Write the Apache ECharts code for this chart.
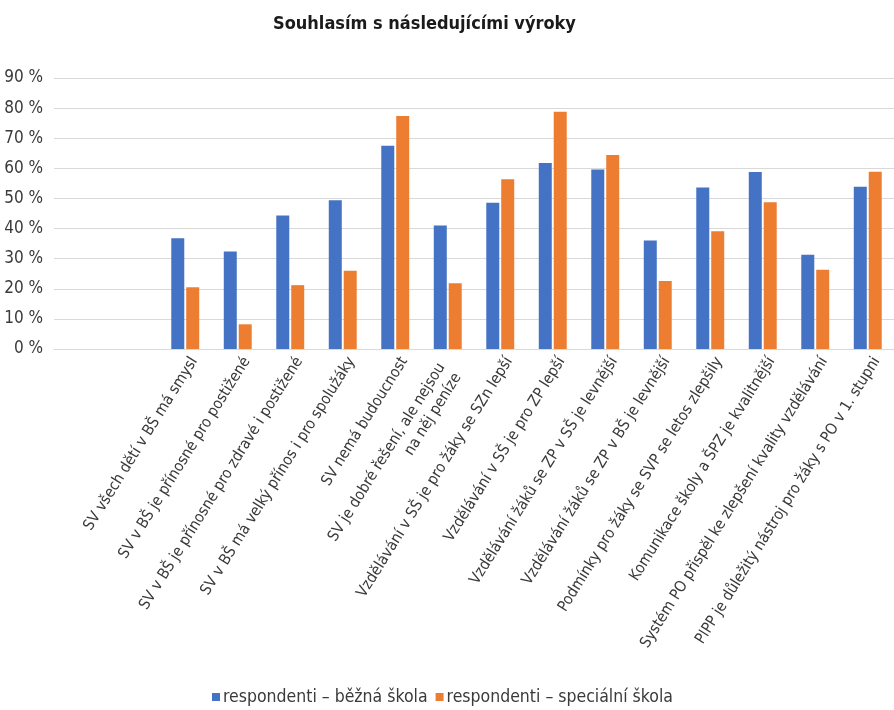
<!DOCTYPE html>
<html>
<head>
<meta charset="utf-8">
<script src="https://cdn.jsdelivr.net/npm/echarts@6/dist/echarts.min.js"></script>
<style>
  html, body { margin: 0; padding: 0; background: #fff; }
  #chart { width: 894px; height: 710px; }
</style>
</head>
<body>
<div id="chart"></div>
<script>
// Statements shown on the category axis
const statements = [
  'SV všech dětí v BŠ má smysl',
  'SV v BŠ je přínosné pro postižené',
  'SV v BŠ je přínosné pro zdravé i postižené',
  'SV v BŠ má velký přínos i pro spolužáky',
  'SV nemá budoucnost',
  'SV je dobré řešení, ale nejsou\nna něj peníze',
  'Vzdělávání v SŠ je pro žáky se SZn lepší',
  'Vzdělávání v SŠ je pro ZP lepší',
  'Vzdělávání žáků se ZP v SŠ je levnější',
  'Vzdělávání žáků se ZP v BŠ je levnější',
  'Podmínky pro žáky se SVP se letos zlepšily',
  'Komunikace školy a ŠPZ je kvalitnější',
  'Systém PO přispěl ke zlepšení kvality vzdělávání',
  'PIPP je důležitý nástroj pro žáky s PO v 1. stupni'
];

// Share of agreeing respondents, in percent
const mainstreamSchool = [36.8, 32.4, 44.3, 49.4, 67.5, 41.0, 48.6, 61.8, 59.6, 36.0, 53.6, 58.8, 31.3, 53.9];
const specialSchool    = [20.5,  8.2, 21.2, 26.0, 77.4, 21.8, 56.4, 78.8, 64.4, 22.6, 39.1, 48.7, 26.3, 58.9];

const seriesNames = ['respondenti – běžná škola', 'respondenti – speciální škola'];
const yTicks = { min: 0, max: 90, interval: 10 };

// Two unused slots precede the statements on the axis
const leadingSlots = 2;
const pad = (arr, v) => Array(leadingSlots).fill(v).concat(arr);

const FONT = "'Liberation Sans Narrow', 'DejaVu Sans Condensed', 'Open Sans', sans-serif";
const TEXT = '#3a3a3a';

// Two-line labels sit centred on their tick
const axisItems = pad(statements, '').map(s =>
  s.indexOf('\n') >= 0 ? { value: s, textStyle: { padding: [0, -4, 35, 0] } } : s
);

const chart = echarts.init(document.getElementById('chart'), null, { renderer: 'canvas' });

chart.setOption({
  animation: false,
  backgroundColor: '#fff',
  textStyle: { fontFamily: FONT },
  title: {
    text: 'Souhlasím s následujícími výroky',
    left: 268,
    top: 10,
    textStyle: { fontFamily: FONT, fontSize: 18, fontWeight: 'bold', color: '#1a1a1a' }
  },
  legend: {
    bottom: -1,
    left: 207,
    itemWidth: 8,
    itemHeight: 8,
    itemGap: 8,
    icon: 'rect',
    textStyle: { fontFamily: FONT, fontSize: 17.5, color: TEXT, padding: [0, 0, 0, -2] },
    data: seriesNames
  },
  grid: { left: 54, top: 78, width: 849, bottom: 361, containLabel: false },
  xAxis: {
    type: 'category',
    data: axisItems,
    axisLine: { lineStyle: { color: '#d9d9d9', width: 1 } },
    axisTick: { show: false },
    axisLabel: {
      interval: 0,
      rotate: 58,
      margin: 24,
      padding: [0, -17, 0, 0],
      fontFamily: FONT,
      fontSize: 15.5,
      color: TEXT,
      lineHeight: 19
    }
  },
  yAxis: {
    type: 'value',
    min: yTicks.min,
    max: yTicks.max,
    interval: yTicks.interval,
    axisLine: { show: false },
    axisTick: { show: false },
    splitLine: { lineStyle: { color: '#d9d9d9', width: 1 } },
    axisLabel: {
      formatter: v => v + ' %',
      fontFamily: FONT,
      fontSize: 17,
      color: TEXT,
      margin: 11
    }
  },
  series: [
    {
      name: seriesNames[0],
      type: 'bar',
      data: pad(mainstreamSchool, null),
      barWidth: 13,
      barGap: '15%',
      itemStyle: { color: '#4472C4' }
    },
    {
      name: seriesNames[1],
      type: 'bar',
      data: pad(specialSchool, null),
      barWidth: 13,
      itemStyle: { color: '#ED7D31' }
    }
  ]
});
</script>
</body>
</html>
